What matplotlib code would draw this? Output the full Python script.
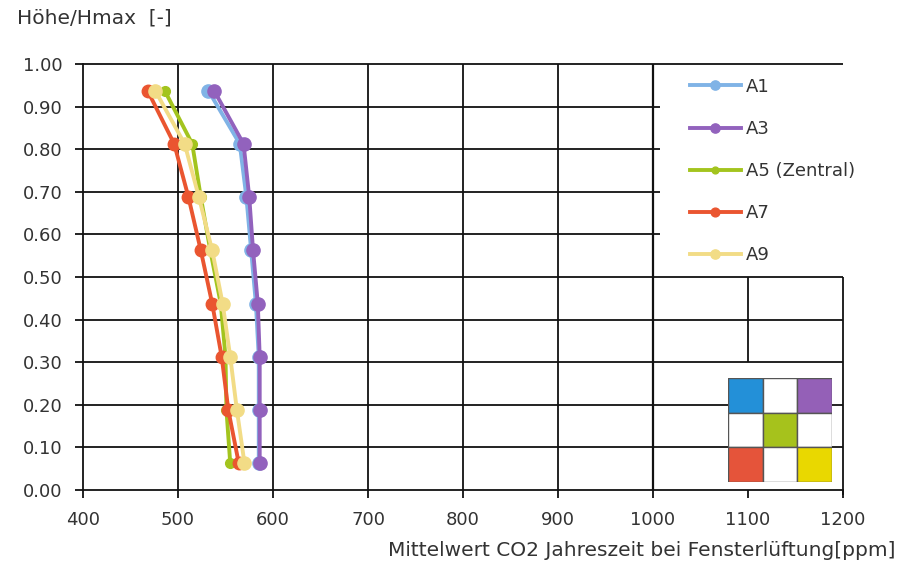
import matplotlib
matplotlib.use("Agg")
import matplotlib.pyplot as plt
from matplotlib.patches import Rectangle

# heights (relative) and mean CO2 values per measuring point
hoehe = [0.9375, 0.8125, 0.6875, 0.5625, 0.4375, 0.3125, 0.1875, 0.0625]
a1 = [532, 565, 572, 577, 582, 585, 585, 585]
a3 = [538, 569, 575, 579, 584, 586, 586, 586]
a5 = [486, 515, 524, 534, 545, 550, 551, 555]
a7 = [468, 496, 511, 524, 536, 546, 553, 564]
a9 = [476, 507, 522, 536, 547, 555, 562, 570]

names = ["A1", "A3", "A5 (Zentral)", "A7", "A9"]
series = [a1, a3, a5, a7, a9]
colors = ["#80b3e6", "#9262bd", "#a3c41e", "#ea5530", "#f2dc86"]
msizes = [9.5, 9.5, 7.0, 9.0, 9.5]

xticks = [400, 500, 600, 700, 800, 900, 1000, 1100, 1200]
yticks = [0.0, 0.1, 0.2, 0.3, 0.4, 0.5, 0.6, 0.7, 0.8, 0.9, 1.0]

# colours of the 3x3 position sketch, row by row from top
raster = [["#2390d8", "white", "#9460b7"],
          ["white", "#a6c21c", "white"],
          ["#e5543a", "white", "#e9d800"]]

txt = "#333333"
lc = "#111111"
plt.rcParams["font.family"] = ["DejaVu Sans"]

fig = plt.figure(figsize=(9.06, 5.63), dpi=100)
ax = fig.add_axes([0.0916, 0.1297, 0.8389, 0.7566])

for name, vals, c, ms in zip(names, series, colors, msizes):
    ax.plot(vals, hoehe, color=c, lw=2.8, marker="o", ms=ms, label=name, zorder=5)

ax.set_xlim(400, 1200)
ax.set_ylim(0, 1)
ax.set_xticks(xticks)
ax.set_yticks(yticks)
ax.set_yticklabels([f"{v:.2f}" for v in yticks])
for s in ax.spines.values():
    s.set_color(lc)
    s.set_linewidth(1.3)
ax.spines["top"].set_visible(False)
ax.spines["right"].set_visible(False)
ax.tick_params(colors=lc, labelcolor=txt, labelsize=13, length=6, width=1.3)
ax.tick_params(axis="y", pad=9)
ax.tick_params(axis="x", pad=9)

# grid drawn by hand: the legend area top right stays free
gk = dict(colors=lc, lw=1.3, zorder=1, clip_on=False)
ax.vlines([500, 600, 700, 800, 900], 0, 1, **gk)
ax.vlines([1100], 0.3, 0.5, **gk)
ax.vlines([1200], -0.012, 0.5, **gk)
ax.hlines([0.1, 0.2, 0.3, 0.4, 0.5], 400, 1200, **gk)
ax.hlines([0.6, 0.7, 0.8, 0.9], 400, 1007, **gk)
ax.hlines([1.0], 400, 1200, **gk)
ax.plot([1000, 1000], [0, 1], color=lc, lw=1.6, zorder=7)

leg = ax.legend(loc="upper left", bbox_to_anchor=(0.7987, 0.968), frameon=False,
                fontsize=13, handlelength=2.8, handletextpad=0.3,
                labelspacing=1.34, markerscale=0.7, borderaxespad=0, borderpad=0)
for t in leg.get_texts():
    t.set_color(txt)
leg.set_zorder(6)

# position sketch
ins = fig.add_axes([728 / 906, 1 - 482 / 563, 104 / 906, 104 / 563])
ins.set_xlim(0, 3)
ins.set_ylim(0, 3)
for r, row in enumerate(raster):
    for c, col in enumerate(row):
        ins.add_patch(Rectangle((c, 2 - r), 1, 1, facecolor=col, edgecolor="#555555", lw=1.0))
ins.axis("off")

fig.text(17 / 906, 1 - 18 / 563, "Höhe/Hmax  [-]", fontsize=14.5, color=txt, va="center")
fig.text(895 / 906, 1 - 550 / 563, "Mittelwert CO2 Jahreszeit bei Fensterlüftung[ppm]",
         fontsize=14.5, color=txt, va="center", ha="right")

fig.savefig("out.png", dpi=100)
